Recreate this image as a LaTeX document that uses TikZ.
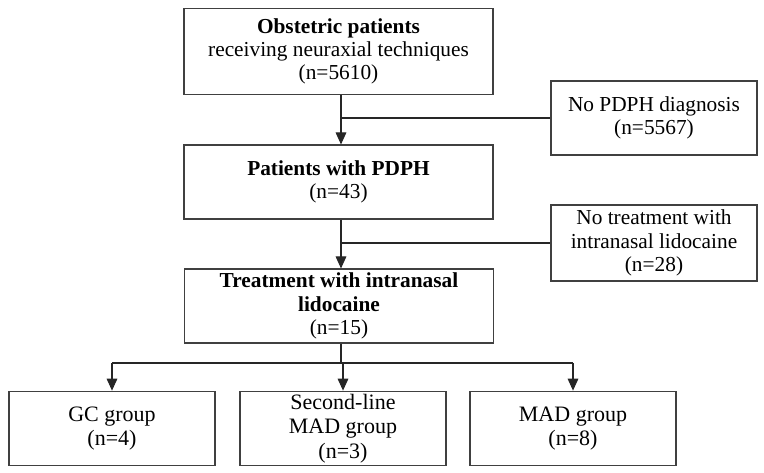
\documentclass[tikz,border=0pt]{standalone}
\usepackage{fontspec}
\setmainfont{Liberation Serif}
\usetikzlibrary{arrows.meta}
\tikzstyle{stage} = [draw=black!75, line width=0.8pt, rectangle, align=center, minimum width=231.75pt, minimum height=60pt, inner sep=1pt, font=\fontsize{16}{17.5}\selectfont]
\tikzstyle{excl} = [stage, minimum width=154.5pt, minimum height=55.5pt]
\tikzstyle{group} = [stage, minimum width=154.5pt, minimum height=56pt, font=\fontsize{16.5}{18.5}\selectfont]
\tikzstyle{flow} = [draw=black!85, line width=0.8pt]
\tikzstyle{into} = [flow, -{Triangle[length=9pt,width=8pt]}]

\begin{document}
\begin{tikzpicture}[x=0.75pt, y=-0.75pt]
    \useasboundingbox (0,0) rectangle (764,473);
    \node[stage, minimum height=65pt] (obst) at (338.5,51.5) {\textbf{Obstetric patients}\\receiving neuraxial techniques\\(n=5610)};
    \node[stage, minimum height=55.5pt] (pdph) at (338.5,182) {\textbf{Patients with PDPH}\\(n=43)};
    \node[stage, minimum height=55.5pt] (treat) at (339,306) {\textbf{Treatment with intranasal}\\\textbf{lidocaine}\\(n=15)};
    \node[excl] (nopdph) at (654,118) {No PDPH diagnosis\\(n=5567)};
    \node[excl, minimum height=57pt] (notreat) at (654,243) {No treatment with\\intranasal lidocaine\\(n=28)};
    \node[group] (gc) at (112,428.5) {GC group\\(n=4)};
    \node[group] (second) at (343,428.5) {Second-line\\MAD group\\(n=3)};
    \node[group] (mad) at (573,428.5) {MAD group\\(n=8)};
    \coordinate (fork) at (341,363);
    % main line with the two exclusions
    \draw[into] (obst.south -| fork) -- (pdph.north -| fork);
    \draw[flow] (nopdph.west -| fork) -- (nopdph.west);
    \draw[into] (pdph.south -| fork) -- (treat.north -| fork);
    \draw[flow] (notreat.west -| fork) -- (notreat.west);
    % split into the three groups
    \draw[flow] (treat.south -| fork) -- (fork);
    \draw[flow] (fork -| gc.north) -- (fork -| mad.north);
    \draw[into] (fork -| gc.north) -- (gc.north);
    \draw[into] (fork -| second.north) -- (second.north);
    \draw[into] (fork -| mad.north) -- (mad.north);
\end{tikzpicture}
\end{document}
